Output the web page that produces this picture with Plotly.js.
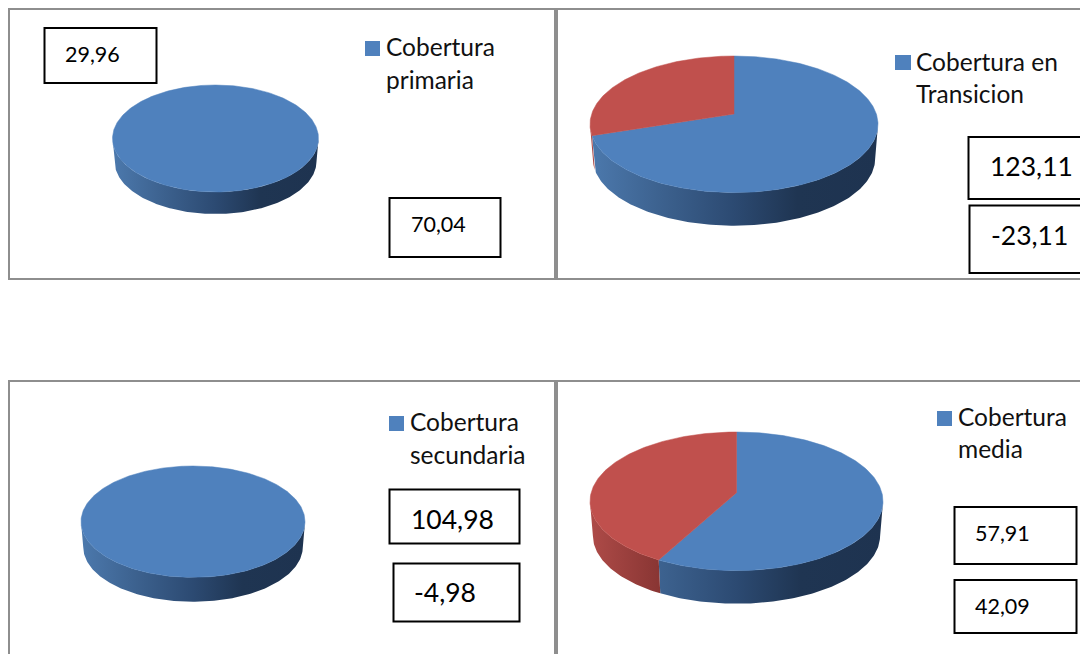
<!DOCTYPE html>
<html>
<head>
<meta charset="utf-8">
<script src="https://cdn.plot.ly/plotly-3.0.1.min.js"></script>
<style>html,body{margin:0;padding:0;background:#fff;overflow:hidden}#c{width:1080px;height:654px}</style>
</head>
<body>
<div id="c"></div>
<script>
// Drawn slice shares
const sharesPrimaria   = [100, 0];
const sharesTransicion = [70, 30];
const sharesSecundaria = [100, 0];
const sharesMedia      = [57.91, 42.09];

// Printed labels
const labelsPrimaria   = ['29,96', '70,04'];
const labelsTransicion = ['123,11', '-23,11'];
const labelsSecundaria = ['104,98', '-4,98'];
const labelsMedia      = ['57,91', '42,09'];

const legendPrimaria   = ['Cobertura', 'primaria'];
const legendTransicion = ['Cobertura en', 'Transicion'];
const legendSecundaria = ['Cobertura', 'secundaria'];
const legendMedia      = ['Cobertura', 'media'];

const BLUE = '#4f81bd', RED = '#c0504d';
const FONT = 'Lato, Carlito, "Open Sans", sans-serif';
const SMALL = 21.5, LARGE = 26.5;
const wallScales = [
  [[0,'#4c79ad'],[0.25,'#3c618e'],[0.5,'#2c4a72'],[0.72,'#1f3552'],[1,'#1e3350']],
  [[0,'#ae4b48'],[0.23,'#8a3634'],[0.5,'#722c2a'],[1,'#6a2826']]
];

// Layout of each panel
const panels = [
  {shares:sharesPrimaria, labels:labelsPrimaria, legend:legendPrimaria,
   pie:{cx:215.5,cy:138.5,rx:103,ry:53.5,depth:23,apex:138.5},
   sq:[365,41,380,56], leg:{x:387,y:[48,81]},
   boxes:[{r:[44.5,28,156.5,83],tx:65,ty:55,fs:SMALL},{r:[389.5,198,500.5,257],tx:411,ty:225,fs:SMALL}]},
  {shares:sharesTransicion, labels:labelsTransicion, legend:legendTransicion,
   pie:{cx:734,cy:124.3,rx:144,ry:68.3,depth:34.5,apex:114},
   sq:[895,55,911,70], leg:{x:917,y:[63,95]},
   boxes:[{r:[968.5,137,1100,199],tx:990,ty:167,fs:LARGE},{r:[969.5,205.5,1100,273],tx:991,ty:236,fs:LARGE}]},
  {shares:sharesSecundaria, labels:labelsSecundaria, legend:legendSecundaria,
   pie:{cx:193,cy:521.7,rx:112,ry:55.7,depth:25.5,apex:521.7},
   sq:[389,416,404,431], leg:{x:410.5,y:[423,456]},
   boxes:[{r:[389.5,489.5,519.5,543.5],tx:411,ty:520,fs:LARGE},{r:[393.5,563.5,519.5,621.5],tx:414,ty:593,fs:LARGE}]},
  {shares:sharesMedia, labels:labelsMedia, legend:legendMedia,
   pie:{cx:736.5,cy:501.3,rx:146.5,ry:69.3,depth:34.5,apex:492.7},
   sq:[937,411,952,426], leg:{x:959,y:[418,450]},
   boxes:[{r:[954.5,507,1076.5,564],tx:975,ty:534,fs:SMALL},{r:[954.5,580,1076.5,633],tx:975,ty:607,fs:SMALL}]}
];

const SHRINK = 0.98, STEP = 1;

// Perspective: maps the angle on the flat disc to a point of the seen ellipse
function project(p, deg){
  const t = deg*Math.PI/180, X = Math.sin(t), Y = -Math.cos(t);
  const a = (p.apex-p.cy)/p.ry, w = 1+a*Y;
  return {px:X*Math.sqrt(1-a*a)/w, py:(Y+a)/w};
}
function topPoint(p, q){ return [p.cx+p.rx*q.px, p.cy+p.ry*q.py]; }
function bottomPoint(p, q){ return [p.cx+p.rx*SHRINK*q.px, p.cy+p.depth+p.ry*SHRINK*q.py]; }

const traces = [];
function addPie(panel){
  const p = panel.pie, total = panel.shares.reduce((s,v)=>s+v,0);
  const faces = [];
  let start = 0;
  panel.shares.forEach((v,i)=>{
    if(v<=0) return;
    const end = start + v/total*360;
    const xs=[], ys=[], fx=[], fy=[], bx=[], by=[];
    for(let d=start;;d+=STEP){
      const ang = Math.min(d,end), q = project(p,ang);
      const T = topPoint(p,q);
      xs.push(T[0]); ys.push(T[1]);
      if(q.py>=0){ fx.push(T[0]); fy.push(T[1]); const B=bottomPoint(p,q); bx.unshift(B[0]); by.unshift(B[1]); }
      if(ang>=end) break;
    }
    if(v<total){ xs.push(p.cx); ys.push(p.apex); }
    xs.push(xs[0]); ys.push(ys[0]);
    if(fx.length>1){
      const wx=fx.concat(bx), wy=fy.concat(by);
      wx.push(wx[0]); wy.push(wy[0]);
      traces.push({x:wx,y:wy,mode:'lines',fill:'toself',line:{width:0,color:i?RED:BLUE},
        fillgradient:{type:'horizontal',colorscale:wallScales[i],start:p.cx-p.rx,stop:p.cx+p.rx},
        hoverinfo:'skip',showlegend:false});
    }
    faces.push({x:xs,y:ys,mode:'lines',fill:'toself',fillcolor:i?RED:BLUE,line:{width:0.5,color:i?RED:BLUE},
      hoverinfo:'skip',showlegend:false});
    start = end;
  });
  faces.forEach(f=>traces.push(f));
}
panels.forEach(addPie);

const GREY='#8e8e8e';
const shapes=[], annotations=[];
function frame(x0,y0,x1,y1){
  shapes.push({type:'rect',xref:'x',yref:'y',x0,y0,x1,y1,line:{color:GREY,width:2},fillcolor:'rgba(0,0,0,0)',layer:'below'});
}
frame(9,9,555,279); frame(557,9,1100,279);
frame(9,381,555,680); frame(557,381,1100,680);

panels.forEach(pn=>{
  shapes.push({type:'rect',xref:'x',yref:'y',x0:pn.sq[0],y0:pn.sq[1],x1:pn.sq[2],y1:pn.sq[3],fillcolor:BLUE,line:{width:0}});
  pn.legend.forEach((t,i)=>annotations.push({xref:'x',yref:'y',x:pn.leg.x,y:pn.leg.y[i],text:t,showarrow:false,
    xanchor:'left',yanchor:'middle',xshift:-3,yshift:2,font:{family:FONT,size:24.5,color:'#111'}}));
  pn.boxes.forEach((b,i)=>{
    shapes.push({type:'rect',xref:'x',yref:'y',x0:b.r[0],y0:b.r[1],x1:b.r[2],y1:b.r[3],fillcolor:'#fff',line:{color:'#000',width:2}});
    annotations.push({xref:'x',yref:'y',x:b.tx,y:b.ty,text:pn.labels[i],showarrow:false,xanchor:'left',yanchor:'middle',xshift:-2,yshift:1,
      font:{family:FONT,size:b.fs,color:'#000'}});
  });
});

const hidden={visible:false,fixedrange:true};
Plotly.newPlot('c',traces,{
  width:1080,height:654,margin:{l:0,r:0,t:0,b:0},
  paper_bgcolor:'#fff',plot_bgcolor:'#fff',showlegend:false,
  xaxis:Object.assign({range:[0,1080]},hidden),
  yaxis:Object.assign({range:[654,0]},hidden),
  shapes,annotations
},{displayModeBar:false,staticPlot:true});
</script>
</body>
</html>
